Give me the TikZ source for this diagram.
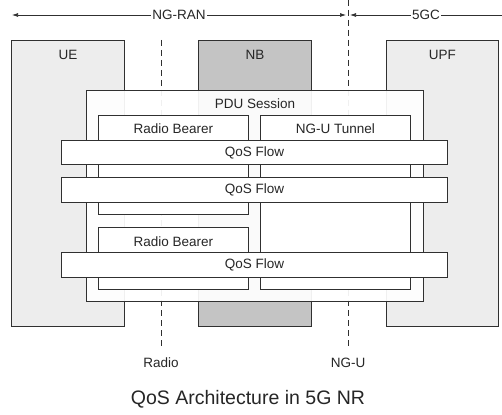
\documentclass[tikz,border=0pt]{standalone}
\usepackage{fontspec}
\setmainfont{Liberation Sans}
\usetikzlibrary{arrows.meta}
\definecolor{edge}{HTML}{303030}
\definecolor{lightfill}{HTML}{EDEDED}
\definecolor{darkfill}{HTML}{C4C4C4}
\tikzset{
  box/.style={draw=edge, line width=0.9pt, rectangle, inner sep=0pt, anchor=north west},
  lbl/.style={font=\fontsize{13.5}{16}\selectfont, text=black!85},
  dashln/.style={draw=edge, line width=0.9pt, dash pattern=on 6pt off 4pt},
  arr/.style={draw=edge, line width=0.7pt},
  tip/.style={-{Latex[length=6pt,width=4pt]}}
}
\begin{document}
\begin{tikzpicture}[x=1pt,y=-1pt]
\fill[white] (0,0) rectangle (502,414);
\useasboundingbox (0,0) rectangle (502,414);
% domain arrows
\coordinate (ranL) at (12,15);
\coordinate (ranR) at (346,15);
\coordinate (gcL) at (350,15);
\coordinate (gcR) at (502,15);
\draw[arr,{Latex[length=6pt,width=4pt]}-{Latex[length=6pt,width=4pt]}] (ranL) -- node[lbl, fill=white, inner sep=1pt] (ran) {NG-RAN} (ranR);
\draw[arr,{Latex[length=6pt,width=4pt]}-] (gcL) -- node[lbl, fill=white, inner sep=1pt] (gc) {5GC} (gcR);
% interface dashed lines
\coordinate (radT) at (161,40);
\coordinate (radB) at (161,348);
\coordinate (nguT) at (348,0);
\coordinate (nguB) at (348,348);
\draw[dashln] (radT) -- (radB);
\draw[dashln] (nguT) -- (nguB);
\node[lbl, anchor=center] (radio) at (161,363) {Radio};
\node[lbl, anchor=center] (ngu) at (348,363) {NG-U};
% network elements
\node[box, fill=lightfill, minimum width=113pt, minimum height=286pt,
  label={[lbl, anchor=center, yshift=-15pt]north:UE}] (ue) at (11,40) {};
\node[box, fill=darkfill, minimum width=113pt, minimum height=286pt,
  label={[lbl, anchor=center, yshift=-15pt]north:NB}] (nb) at (198,40) {};
\node[box, fill=lightfill, minimum width=112pt, minimum height=286pt,
  label={[lbl, anchor=center, yshift=-15pt]north:UPF}] (upf) at (386,40) {};
% PDU session
\node[box, fill=white, fill opacity=0.93, minimum width=337pt, minimum height=211pt,
  label={[lbl, anchor=center, yshift=-14pt]north:PDU Session}] (pdu) at (86,90) {};
% bearers and tunnel
\node[box, fill=white, minimum width=150pt, minimum height=99pt,
  label={[lbl, anchor=center, yshift=-14pt]north:Radio Bearer}] (rb1) at (98,115) {};
\node[box, fill=white, minimum width=150pt, minimum height=174pt,
  label={[lbl, anchor=center, yshift=-14pt]north:NG-U Tunnel}] (tun) at (260,115) {};
\node[box, fill=white, minimum width=150pt, minimum height=62pt,
  label={[lbl, anchor=center, yshift=-15pt]north:Radio Bearer}] (rb2) at (98,227) {};
% QoS flows
\node[box, fill=white, minimum width=386pt, minimum height=24pt] (qf1) at (61,140) {};
\node[lbl] at (qf1.center) {QoS Flow};
\node[box, fill=white, minimum width=386pt, minimum height=25pt] (qf2) at (61,177) {};
\node[lbl] at (qf2.center) {QoS Flow};
\node[box, fill=white, minimum width=386pt, minimum height=25pt] (qf3) at (61,252) {};
\node[lbl] at (qf3.center) {QoS Flow};
% title
\node[font=\fontsize{19.5}{23}\selectfont, text=black!85] (title) at (248,399) {QoS Architecture in 5G NR};
\end{tikzpicture}
\end{document}
